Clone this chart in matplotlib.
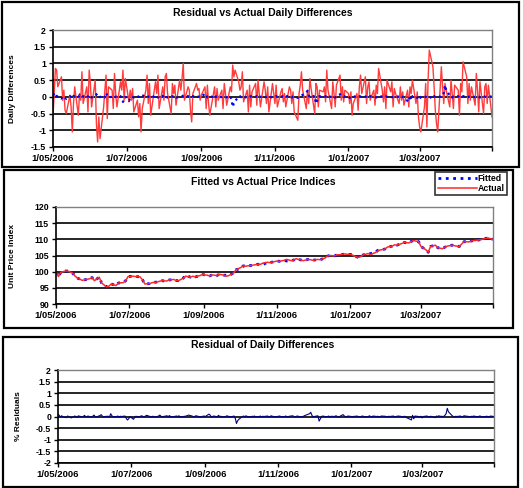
import matplotlib

matplotlib.use("Agg")
import matplotlib.pyplot as plt
import pandas as pd
from matplotlib.patches import Rectangle
from matplotlib.ticker import FuncFormatter

plt.rcParams["font.family"] = ["Liberation Sans", "DejaVu Sans"]
plt.rcParams["font.weight"] = "bold"

W, H = 523, 488

# daily data: business days 1 May 2006 .. 30 Apr 2007
start, end = "2006-05-01", "2007-04-30"

actual_diff = [
    -0.55, 0.10, 0.85, 0.80, 0.30, 0.60, -0.10, 0.20, -0.40, -0.50,
    0.05, -0.30, -1.05, -0.20, 0.30, -0.55, 0.10, -0.10, 0.75, -0.20,
    0.30, -0.45, 0.80, 0.40, -0.30, 0.50, -0.80, -1.35, -0.60, -1.25,
    -0.30, 0.20, 0.65, -0.65, 0.30, 0.20, -0.35, 0.70, 0.10, -0.30,
    0.45, 0.20, 0.80, -0.10, 0.55, -0.15, 0.20, -0.10, 0.25, -0.45,
    -0.10, -0.60, -0.20, -1.05, -0.35, 0.20, 0.65, -0.20, 0.40, -0.55,
    0.20, 0.45, 0.10, 0.65, -0.35, 0.30, -0.10, 0.60, 0.70, 0.10,
    -0.50, 0.40, 0.10, 0.35, -0.25, 0.50, 0.20, 0.55, 1.00, -0.10,
    0.30, 0.20, -0.40, -0.75, 0.10, 0.40, 0.20, 0.25, -0.10, 0.05,
    0.30, -0.35, 0.35, -0.20, -0.55, 0.10, 0.30, -0.30, 0.25, -0.10,
    0.20, -0.35, 0.40, 0.10, -0.25, 0.30, 0.15, 0.95, 0.60, 0.80,
    0.45, 0.20, 0.30, 0.75, -0.15, 0.20, -0.45, 0.35, -0.30, 0.15,
    0.40, -0.25, 0.50, 0.10, -0.30, 0.45, 0.20, -0.20, 0.30, -0.45,
    0.40, 0.10, -0.20, 0.35, -0.30, 0.15, 0.25, -0.15, 0.10, -0.30,
    0.30, 0.20, -0.20, 0.15, -0.45, -0.70, 0.10, 0.35, 0.75, 0.20,
    -0.35, 0.20, -0.20, 0.55, 0.25, -0.50, 0.40, 0.30, -0.30, 0.20,
    0.15, 0.30, -0.15, 0.80, 0.20, -0.35, 0.45, 0.10, -0.30, 0.35,
    0.65, -0.10, 0.30, -0.15, 0.20, 0.10, -0.20, 0.15, -0.55, -0.20,
    0.10, -0.40, 0.30, 0.65, 0.10, 0.60, -0.20, 0.30, 0.45, -0.10,
    0.20, -0.25, 0.35, 0.10, 0.85, 0.20, -0.15, 0.30, -0.35, 0.50,
    0.15, 0.45, -0.30, 0.25, 0.10, -0.20, 0.30, -0.10, 0.15, -0.25,
    0.20, -0.30, 0.30, 0.10, 0.50, -0.20, 0.15, -0.60, -0.90, -1.05,
    -0.30, 0.40, -0.90, 0.50, 1.40, 0.90, 0.30, -0.40, -0.80, -1.05,
    0.90, 0.30, -0.20, 0.40, 0.20, -0.30, 0.50, 0.10, -0.35, 0.35,
    0.20, -0.55, 0.40, 0.15, 1.05, 0.60, -0.20, 0.40, -0.10, 0.30,
    -0.25, 0.70, 0.20, -0.45, 0.45, -0.50, 0.30, 0.40, -0.20, 0.35,
    -0.60,
]

residual = [
    0.10, 0.05, -0.02, 0.03, 0.00, -0.05, 0.02, 0.00, -0.03, -0.06,
    0.02, 0.00, -0.04, 0.03, 0.01, -0.02, 0.05, 0.00, -0.01, 0.02,
    -0.03, 0.01, 0.06, 0.00, -0.02, 0.04, 0.08, 0.02, -0.03, 0.00,
    0.01, -0.02, 0.12, 0.03, -0.01, 0.00, 0.02, -0.03, 0.01, 0.00,
    0.02, -0.08, -0.15, -0.10, 0.00, -0.12, -0.04, 0.01, 0.00, -0.02,
    0.03, 0.00, -0.01, 0.02, 0.05, 0.00, -0.02, 0.01, 0.00, -0.03,
    0.02, 0.06, 0.01, -0.02, 0.00, 0.03, -0.01, 0.04, 0.00, -0.02,
    0.01, 0.02, 0.00, 0.03, -0.02, 0.00, 0.01, 0.02, 0.04, 0.06,
    0.02, -0.01, 0.00, 0.03, 0.02, -0.02, 0.00, 0.01, 0.02, 0.00,
    0.10, 0.06, -0.02, 0.00, 0.02, -0.01, 0.05, 0.00, 0.01, -0.02,
    0.00, 0.03, 0.01, 0.00, -0.02, 0.02, -0.08, -0.30, -0.18, -0.12,
    0.00, 0.02, -0.01, 0.03, 0.00, -0.02, 0.01, 0.00, 0.02, -0.01,
    0.00, 0.02, -0.03, 0.01, 0.00, 0.02, -0.01, 0.00, 0.03, 0.01,
    -0.02, 0.00, 0.01, 0.02, 0.00, -0.01, 0.02, 0.00, -0.02, 0.01,
    0.03, 0.00, -0.02, 0.01, 0.02, -0.03, 0.00, 0.01, 0.04, 0.06,
    0.12, 0.18, 0.05, -0.02, 0.00, 0.03, -0.20, -0.10, 0.00, 0.02,
    -0.01, 0.00, 0.02, -0.02, 0.01, 0.00, 0.03, 0.01, -0.02, 0.00,
    0.08, 0.02, 0.00, -0.01, 0.02, 0.00, -0.03, 0.01, 0.00, 0.02,
    -0.01, 0.00, 0.02, 0.01, -0.02, 0.00, 0.03, 0.00, -0.01, 0.02,
    0.00, 0.01, -0.02, 0.00, 0.02, 0.01, 0.00, -0.02, 0.01, 0.00,
    0.02, -0.01, 0.00, 0.01, 0.02, 0.00, -0.03, 0.01, 0.00, -0.05,
    -0.12, -0.15, 0.05, -0.10, 0.02, 0.00, -0.03, 0.01, -0.06, 0.00,
    0.02, 0.00, -0.03, 0.01, 0.00, -0.05, 0.02, 0.00, 0.03, 0.01,
    0.00, 0.05, 0.12, 0.35, 0.20, 0.04, 0.00, -0.02, 0.01, 0.00,
    0.02, -0.01, 0.00, 0.03, 0.02, 0.00, -0.02, 0.01, 0.00, 0.02,
    -0.01, 0.00, 0.02, 0.01, -0.02, 0.00, 0.01, 0.00, -0.01, 0.02,
    0.00,
]

# price indices, every second business day
actual_index = [
    100.0, 98.5, 99.8, 100.2, 100.2, 99.5, 98.6, 98.0, 97.3, 97.5,
    97.8, 98.2, 97.2, 98.3, 96.5, 95.3, 95.5, 96.2, 95.7, 96.5,
    96.6, 97.2, 98.5, 98.6, 98.5, 98.4, 97.5, 96.2, 96.3, 96.6,
    96.8, 97.0, 97.2, 97.1, 97.4, 97.6, 97.3, 97.2, 98.0, 98.6,
    98.3, 98.6, 98.4, 98.8, 99.1, 98.9, 98.7, 99.0, 98.8, 99.2,
    98.9, 98.6, 98.8, 99.6, 100.6, 101.3, 101.8, 101.7, 101.9, 102.0,
    102.3, 102.2, 102.6, 102.9, 102.8, 103.1, 103.3, 103.2, 103.5, 103.8,
    103.4, 103.6, 104.0, 103.6, 103.4, 103.8, 103.7, 103.5, 103.8, 103.7,
    104.2, 104.8, 105.0, 104.9, 105.2, 105.3, 105.5, 105.4, 105.3, 104.9,
    104.4, 104.7, 105.2, 105.6, 105.3, 105.9, 106.4, 106.7, 107.0, 107.6,
    107.9, 108.3, 108.2, 108.7, 109.0, 108.9, 109.4, 109.6, 109.3, 107.8,
    106.8, 106.0, 107.8, 108.2, 107.4, 107.1, 107.6, 107.9, 108.2, 108.0,
    107.8, 108.6, 109.3, 109.2, 109.5, 109.7, 109.8, 109.9, 110.3, 110.4,
    110.0,
]

fitted_index = [
    100.0, 98.5, 99.8, 100.2, 100.2, 99.5, 98.6, 98.0, 97.3, 97.5,
    97.8, 98.2, 97.2, 98.3, 96.5, 95.3, 95.5, 96.2, 95.7, 96.5,
    96.6, 97.2, 98.5, 98.6, 98.5, 98.4, 97.5, 96.2, 96.3, 96.6,
    96.8, 97.0, 97.2, 97.1, 97.4, 97.6, 97.3, 97.2, 98.0, 98.9,
    98.3, 98.6, 98.4, 98.8, 99.1, 98.9, 98.7, 99.0, 98.8, 99.2,
    98.9, 98.9, 98.8, 99.6, 100.6, 101.0, 101.8, 101.7, 101.9, 102.0,
    102.3, 102.2, 102.1, 102.9, 102.8, 103.1, 103.3, 103.2, 103.5, 103.3,
    103.4, 103.6, 104.0, 103.6, 103.4, 103.8, 103.7, 103.5, 103.8, 103.7,
    104.2, 104.8, 105.0, 104.9, 105.2, 105.3, 105.4, 105.4, 105.3, 104.9,
    104.4, 104.7, 105.2, 105.6, 105.6, 105.9, 106.6, 106.7, 107.0, 107.6,
    107.9, 108.3, 108.2, 108.7, 109.0, 108.9, 109.4, 109.6, 109.3, 107.8,
    106.8, 106.0, 107.8, 108.2, 107.4, 107.1, 107.6, 107.9, 108.2, 108.0,
    107.8, 108.6, 109.3, 109.2, 109.5, 109.7, 109.8, 109.9, 110.3, 110.4,
    110.0,
]

tick_dates = ["2006-05-01", "2006-07-01", "2006-09-01", "2006-11-01",
              "2007-01-01", "2007-03-01"]
tick_labels = ["1/05/2006", "1/07/2006", "1/09/2006", "1/11/2006",
               "1/01/2007", "1/03/2007"]

days = pd.bdate_range(start, end)
price_days = days[::2]

fig = plt.figure(figsize=(W / 100, H / 100), dpi=100)


def px_axes(l, t, r, b):
    return fig.add_axes([l / W, 1 - b / H, (r - l) / W, (b - t) / H])


def frame(l, t, r, b):
    fig.patches.append(Rectangle((l / W, 1 - b / H), (r - l) / W, (b - t) / H,
                                 transform=fig.transFigure, fill=False,
                                 edgecolor="black", lw=1.6))


def style(ax, ylo, yhi, step, ylabel, label_x):
    ax.set_xlim(pd.Timestamp(start), pd.Timestamp(end))
    ax.set_ylim(ylo, yhi)
    ax.set_yticks([ylo + step * k for k in range(int(round((yhi - ylo) / step)) + 1)])
    ax.yaxis.set_major_formatter(FuncFormatter(lambda v, p: f"{v:g}"))
    ax.set_xticks(pd.to_datetime(tick_dates + [end]))
    ax.set_xticklabels(tick_labels + [""])
    ax.grid(axis="y", color="black", lw=1.2)
    ax.grid(axis="x", visible=False)
    ax.set_axisbelow(True)
    for s in ("top", "right"):
        ax.spines[s].set_color("#808080")
        ax.spines[s].set_linewidth(1.0)
    for s in ("left", "bottom"):
        ax.spines[s].set_color("black")
        ax.spines[s].set_linewidth(1.2)
    ax.tick_params(direction="out", length=3, width=1, labelsize=6.3, pad=2)
    ax.tick_params(axis="x", labelsize=6.8)
    ax.set_ylabel(ylabel, fontsize=6, fontweight="bold")
    # y label centred on a fixed pixel column (anchor is the label's right side)
    pos = ax.get_position()
    ax.yaxis.set_label_coords(((label_x + 3.5) / W - pos.x0) / pos.width, 0.5)


frame(2, 2, 519, 167)
frame(4, 170, 513, 328)
frame(3, 337, 518, 487)

# panel 1
ax1 = px_axes(53, 30, 492, 147)
ax1.plot(days, actual_diff, color="#ff3b3b", lw=1.0)
ax1.plot(days, residual, color="#0000ff", lw=1.6, ls=":")
style(ax1, -1.5, 2, 0.5, "Daily Differences", 13)
fig.text(263 / W, 1 - 13 / H, "Residual vs Actual Daily Differences",
         ha="center", va="center", fontsize=7.5, fontweight="bold")

# panel 2
ax2 = px_axes(56, 207, 493, 304)
ax2.plot(price_days, fitted_index, color="#0000ff", lw=2, ls=":", label="Fitted")
ax2.plot(price_days, actual_index, color="#ff2828", lw=1.1, label="Actual")
style(ax2, 90, 120, 5, "Unit Price Index", 13)
fig.text(263 / W, 1 - 182 / H, "Fitted vs Actual Price Indices",
         ha="center", va="center", fontsize=7.5, fontweight="bold")
leg = ax2.legend(loc="upper right", bbox_to_anchor=(507 / W, 1 - 172 / H),
                 bbox_transform=fig.transFigure, fontsize=6.3, frameon=True,
                 fancybox=False, borderpad=0.25, handlelength=4.5,
                 handletextpad=0.1, labelspacing=0.1, borderaxespad=0)
leg.get_frame().set_edgecolor("black")
leg.get_frame().set_linewidth(1.2)

# panel 3
ax3 = px_axes(58, 370, 494, 463)
ax3.plot(days, residual, color="#000080", lw=0.8)
style(ax3, -2, 2, 0.5, "% Residuals", 18)
fig.text(263 / W, 1 - 345 / H, "Residual of Daily Differences",
         ha="center", va="center", fontsize=7.5, fontweight="bold")

fig.savefig("out.png", dpi=100)
